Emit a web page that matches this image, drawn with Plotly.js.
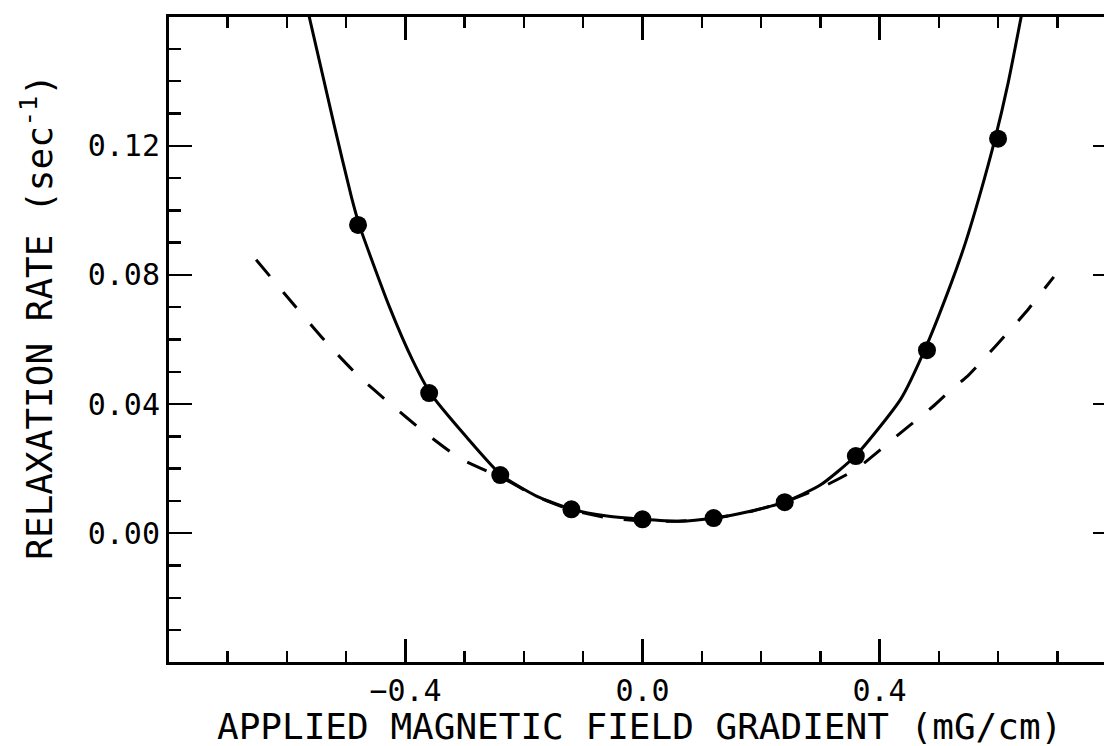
<!DOCTYPE html>
<html>
<head>
<meta charset="utf-8">
<script src="https://cdn.plot.ly/plotly-3.0.1.min.js"></script>
<style>
html,body{margin:0;padding:0;overflow:hidden;background:#fff;}
#chart{width:1130px;height:746px;}
</style>
</head>
<body>
<div id="chart"></div>
<script>
// Measured relaxation rates (dots)
const dotX = [-0.48, -0.36, -0.24, -0.12, 0.00, 0.12, 0.24, 0.36, 0.48, 0.60];
const dotY = [0.0955, 0.0434, 0.0180, 0.0074, 0.0043, 0.0047, 0.0096, 0.0239, 0.0567, 0.1222];

// Solid fitted curve
const fitX = [-0.5624, -0.520, -0.491, -0.478, -0.427, -0.388, -0.358, -0.297, -0.238, -0.179, -0.119, -0.060, 0.000, 0.063, 0.121, 0.182, 0.239, 0.300, 0.359, 0.436, 0.476, 0.520, 0.545, 0.568, 0.595, 0.617, 0.639];
const fitY = [0.1600, 0.1262, 0.1040, 0.0955, 0.0701, 0.0536, 0.0434, 0.0298, 0.0180, 0.0115, 0.0074, 0.0053, 0.0043, 0.0037, 0.0047, 0.0068, 0.0096, 0.0149, 0.0239, 0.0416, 0.0567, 0.0770, 0.0900, 0.1040, 0.1222, 0.1395, 0.1600];

// Dashed curve
const dashX = [-0.652, -0.605, -0.534, -0.481, -0.427, -0.368, -0.309, -0.258, -0.240, -0.180, -0.120, -0.060, 0.000, 0.060, 0.120, 0.180, 0.240, 0.300, 0.360, 0.407, 0.435, 0.464, 0.491, 0.520, 0.547, 0.574, 0.596, 0.625, 0.647, 0.694];
const dashY = [0.0847, 0.0744, 0.0592, 0.0490, 0.0403, 0.0313, 0.0233, 0.0189, 0.0175, 0.0115, 0.0072, 0.0048, 0.0038, 0.0037, 0.0046, 0.0066, 0.0097, 0.0140, 0.0198, 0.0267, 0.0310, 0.0353, 0.0394, 0.0443, 0.0484, 0.0536, 0.0580, 0.0639, 0.0685, 0.0794];

const xTitle = "APPLIED MAGNETIC FIELD GRADIENT (mG/cm)";
const yTitle = "RELAXATION RATE (sec<sup>-1</sup>)";

const traces = [
  {x: dashX, y: dashY, mode: 'lines', line: {color: '#000', width: 3, dash: '21px,21px', shape: 'spline', smoothing: 0.6}, hoverinfo: 'skip', showlegend: false},
  {x: fitX, y: fitY, mode: 'lines', line: {color: '#000', width: 3, shape: 'spline', smoothing: 0.6}, hoverinfo: 'skip', showlegend: false},
  {x: dotX, y: dotY, mode: 'markers', marker: {color: '#000', size: 18}, showlegend: false}
];

const tickFont = {family: 'DejaVu Sans Mono', size: 30, color: '#000'};
const titleFont = {family: 'DejaVu Sans Mono', size: 36, color: '#000'};

const layout = {
  width: 1130, height: 746,
  margin: {l: 169, r: 14, t: 17, b: 84},
  paper_bgcolor: '#fff', plot_bgcolor: '#fff',
  xaxis: {
    range: [-0.799, 0.799], tick0: 0, dtick: 0.4, tickformat: '.1f',
    ticks: 'inside', ticklen: 23, tickwidth: 2.5, tickcolor: '#000',
    showline: true, linewidth: 3, linecolor: '#000', mirror: 'allticks',
    showgrid: false, zeroline: false,
    tickfont: tickFont,
    minor: {tick0: 0, dtick: 0.1, ticks: 'inside', ticklen: 11, tickwidth: 2.5, tickcolor: '#000', showgrid: false}
  },
  yaxis: {
    range: [-0.0399, 0.1599], tick0: 0, dtick: 0.04, tickformat: '.2f',
    ticks: 'inside', ticklen: 23, tickwidth: 2.5, tickcolor: '#000',
    showline: true, linewidth: 3, linecolor: '#000', mirror: 'allticks',
    showgrid: false, zeroline: false,
    tickfont: tickFont,
    minor: {tick0: 0, dtick: 0.01, ticks: 'inside', ticklen: 12, tickwidth: 2.5, tickcolor: '#000', showgrid: false}
  },
  annotations: [
    {text: xTitle, xref: 'paper', yref: 'paper', x: 0.497, y: -0.1, xanchor: 'center', yanchor: 'middle', showarrow: false, font: titleFont},
    {text: yTitle, xref: 'paper', yref: 'paper', x: -0.139, y: 0.536, xanchor: 'center', yanchor: 'middle', textangle: -90, showarrow: false, font: titleFont}
  ]
};

Plotly.newPlot('chart', traces, layout, {staticPlot: true, displayModeBar: false});
</script>
</body>
</html>
